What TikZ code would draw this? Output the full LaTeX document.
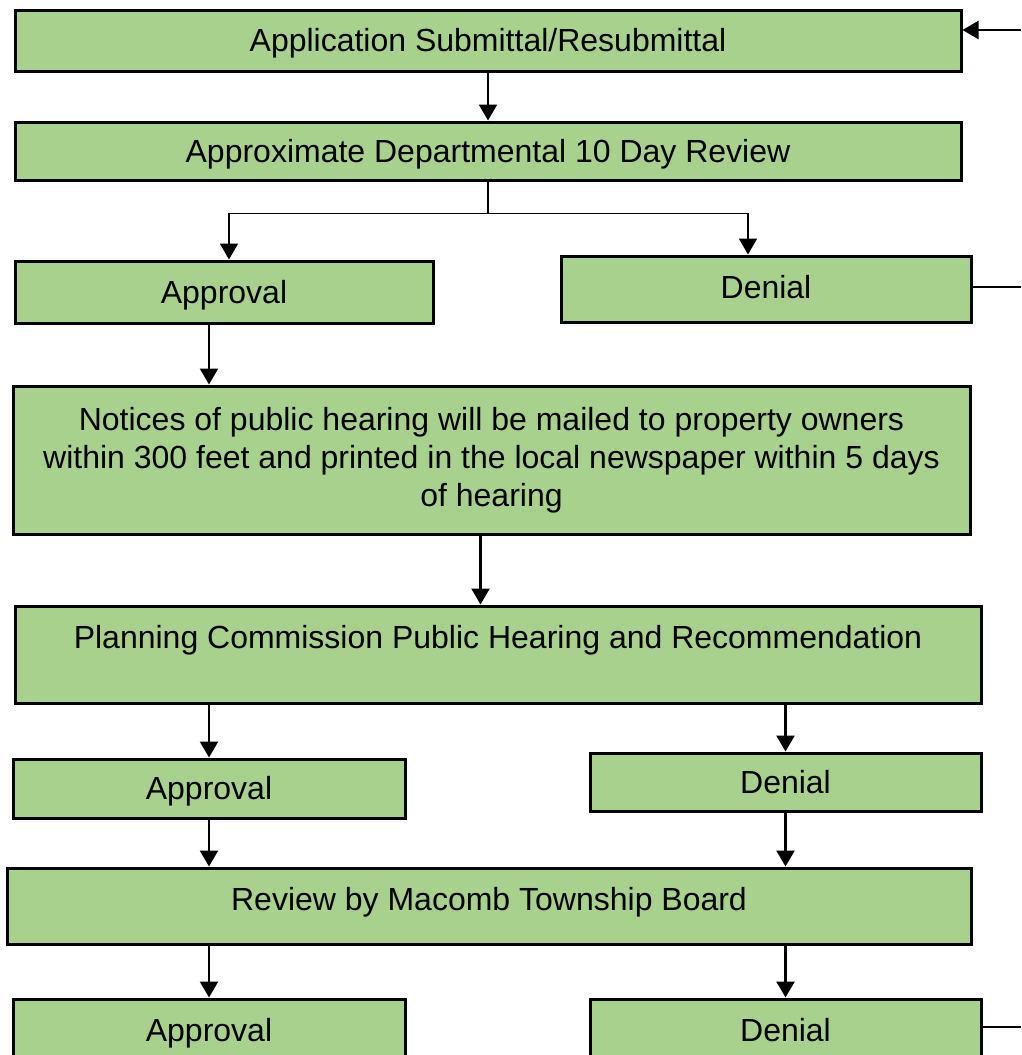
\documentclass[tikz,border=0pt]{standalone}
\usepackage{fontspec}
\setmainfont{Liberation Sans}
\usepackage{tikz}
\usetikzlibrary{arrows.meta,positioning}
\definecolor{boxgreen}{HTML}{A9D18E}

\begin{document}
\begin{tikzpicture}[x=1pt,y=-1pt,>={Triangle[length=16pt,width=18pt]},
                    line width=2.4pt,
                    box/.style={draw,fill=boxgreen,line width=3pt,rectangle,inner sep=0pt,
                                font=\fontsize{32}{38}\selectfont,align=center},
                    tbox/.style={box,text height=23pt,text depth=#1},tbox/.default=1pt]
  \useasboundingbox (0,0) rectangle (1021,1055);
  \clip (0,0) rectangle (1021,1055);
  \node[tbox,minimum width=946,minimum height=61] (app)    at (488,40.5)  {Application Submittal/Resubmittal};
  \node[tbox,minimum width=946,minimum height=58] (rev)    at (488,151)   {Approximate Departmental 10 Day Review};
  \node[tbox,minimum width=418,minimum height=62] (appr1)  at (224,292)   {Approval};
  \node[tbox=4pt,minimum width=410,minimum height=66] (den1) at (766,289) {Denial};
  \node[box,minimum width=957,minimum height=148] (notice) at (491.5,460)
        {Notices of public hearing will be mailed to property owners\\
         within 300 feet and printed in the local newspaper within 5 days\\
         of hearing};
  \node[tbox=35pt,minimum width=966,minimum height=97] (pc) at (498,654.5)
        {Planning Commission Public Hearing and Recommendation};
  \node[tbox,minimum width=392,minimum height=59] (appr2)  at (209,788.5) {Approval};
  \node[tbox,minimum width=391,minimum height=58] (den2)   at (785.5,782) {Denial};
  \node[tbox=14pt,minimum width=964,minimum height=76] (board) at (489,906) {Review by Macomb Township Board};
  \node[tbox,minimum width=392,minimum height=62] (appr3)  at (209,1030)  {Approval};
  \node[tbox,minimum width=391,minimum height=62] (den3)   at (785.5,1030) {Denial};
  \coordinate (resub) at (1021,30);
  \coordinate (out1)  at (1021,287);
  \coordinate (out3)  at (1021,1027);

  % resubmittal loop
  \draw[->] (resub) -- (app.east |- resub);
  \draw[line width=2pt] (den1.east |- out1) -- (out1);
  \draw[line width=2pt] (den3.east |- out3) -- (out3);

  \draw[->] (app) -- (rev);
  \draw[->,line width=1.8pt] (rev.south) -- ++(0,32) -| ([xshift=5pt]appr1.north);
  \draw[->,line width=1.8pt] (rev.south) -- ++(0,32) -| ([xshift=-18pt]den1.north);
  \draw[->] ([xshift=-15pt]appr1.south) -- ([xshift=-15pt]appr1.south |- notice.north);
  \draw[->] ([xshift=-11pt]notice.south) -- ([xshift=-11pt]notice.south |- pc.north);
  \draw[->] (pc.south -| appr2.north) -- (appr2.north);
  \draw[->] (pc.south -| den2.north) -- (den2.north);
  \draw[->] (appr2.south) -- (appr2.south |- board.north);
  \draw[->] (den2.south) -- (den2.south |- board.north);
  \draw[->] (board.south -| appr3.north) -- (appr3.north);
  \draw[->] (board.south -| den3.north) -- (den3.north);
\end{tikzpicture}
\end{document}
